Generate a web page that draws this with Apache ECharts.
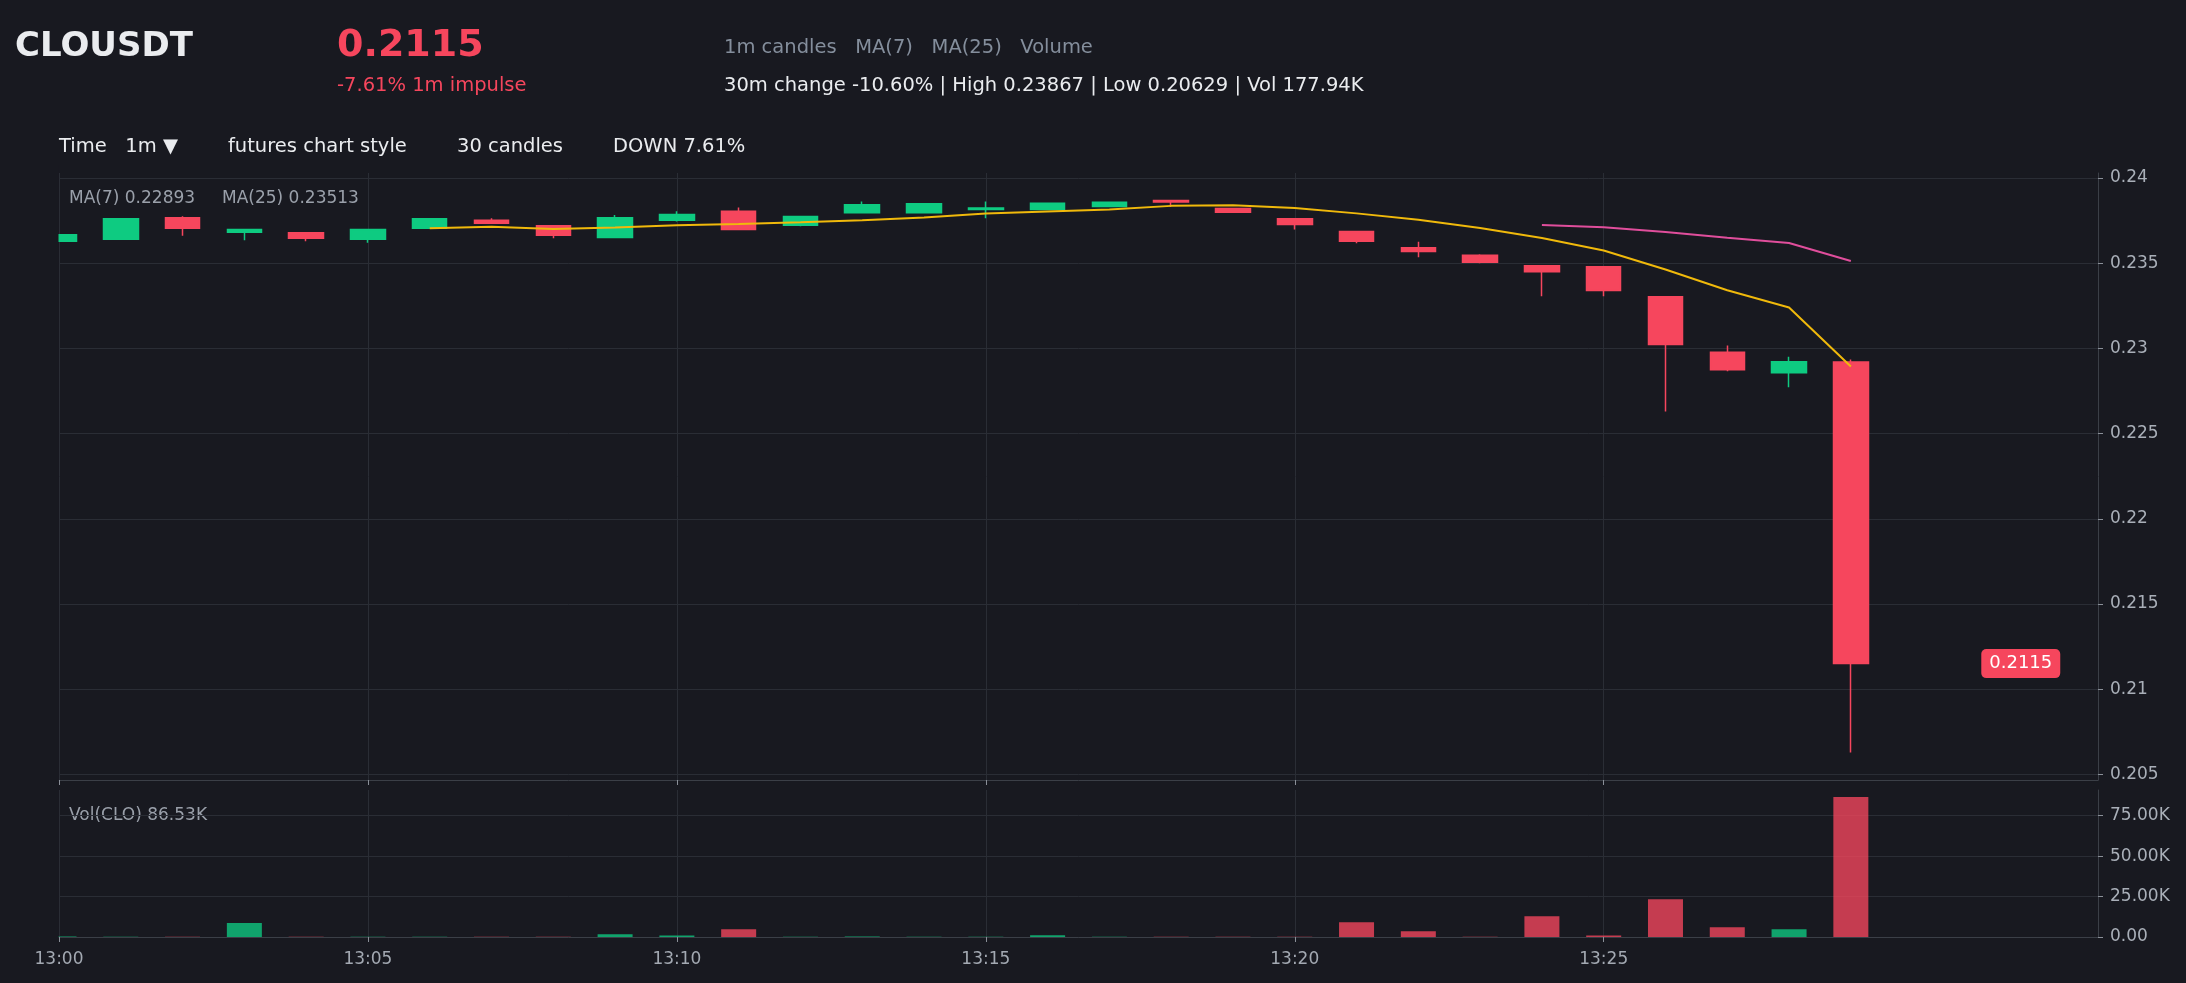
<!DOCTYPE html>
<html>
<head>
<meta charset="utf-8">
<title>CLOUSDT 1m</title>
<script src="https://cdn.jsdelivr.net/npm/echarts@6/dist/echarts.min.js"></script>
<style>
  html, body { margin: 0; padding: 0; background: #181920; }
  #chart { width: 2186px; height: 983px; }
</style>
</head>
<body>
<div id="chart"></div>
<script>
// 1m candles
var times = ['13:00', '13:01', '13:02', '13:03', '13:04', '13:05', '13:06', '13:07', '13:08', '13:09',
  '13:10', '13:11', '13:12', '13:13', '13:14', '13:15', '13:16', '13:17', '13:18', '13:19',
  '13:20', '13:21', '13:22', '13:23', '13:24', '13:25', '13:26', '13:27', '13:28', '13:29']
var opens = [0.23628, 0.23640, 0.23767, 0.23681, 0.23679, 0.23640, 0.23704, 0.23751, 0.23720, 0.23650,
  0.23751, 0.23804, 0.23722, 0.23796, 0.23796, 0.23814, 0.23814, 0.23832, 0.23867, 0.23820,
  0.23761, 0.23685, 0.23591, 0.23546, 0.23485, 0.23479, 0.23303, 0.22977, 0.22857, 0.22920]
var closes = [0.23667, 0.23761, 0.23704, 0.23697, 0.23646, 0.23697, 0.23761, 0.23734, 0.23663, 0.23767,
  0.23785, 0.23698, 0.23773, 0.23843, 0.23849, 0.23824, 0.23851, 0.23857, 0.23858, 0.23798,
  0.23726, 0.23628, 0.23569, 0.23505, 0.23450, 0.23339, 0.23022, 0.22875, 0.22922, 0.2115]
var lows = [0.23626, 0.23638, 0.23661, 0.23634, 0.23628, 0.23619, 0.23702, 0.23732, 0.23646, 0.23648,
  0.23745, 0.23696, 0.23716, 0.23794, 0.23794, 0.23763, 0.23812, 0.23830, 0.23830, 0.23796,
  0.23698, 0.23616, 0.23534, 0.23499, 0.23305, 0.23305, 0.22630, 0.22865, 0.22771, 0.20629]
var highs = [0.23669, 0.23763, 0.23775, 0.23699, 0.23681, 0.23699, 0.23763, 0.23763, 0.23722, 0.23783,
  0.23804, 0.23826, 0.23775, 0.23862, 0.23851, 0.23862, 0.23853, 0.23859, 0.23867, 0.23822,
  0.23763, 0.23687, 0.23626, 0.23552, 0.23487, 0.23481, 0.23305, 0.23016, 0.22951, 0.22935]
var volumes = [300, 200, 100, 8600, 100, 100, 100, 100, 200, 1700,
  1000, 4800, 200, 300, 200, 100, 1100, 200, 100, 100,
  100, 9100, 3500, 200, 12800, 1000, 23300, 6000, 4800, 86530]
var ma7 = [null, null, null, null, null, null, 0.23705, 0.23714, 0.23700, 0.23709,
  0.23722, 0.23729, 0.23740, 0.23752, 0.23768, 0.23791, 0.23803, 0.23814, 0.23836, 0.23840,
  0.23823, 0.23792, 0.23755, 0.23706, 0.23648, 0.23574, 0.23463, 0.23341, 0.23240, 0.22893]
var ma25 = [null, null, null, null, null, null, null, null, null, null,
  null, null, null, null, null, null, null, null, null, null,
  null, null, null, null, 0.23724, 0.23711, 0.23682, 0.23649, 0.23618, 0.23513]

var priceTicks = [0.205, 0.21, 0.215, 0.22, 0.225, 0.23, 0.235, 0.24]
var volTicks = [0, 25000, 50000, 75000]
var timeTicks = ['13:00', '13:05', '13:10', '13:15', '13:20', '13:25']
var axisEnd = '13:33'

var UP = '#0ecb81'
var DOWN = '#f6465d'
var BG = '#181920'
var FONT = 'DejaVu Sans'

function toMin(t) {
  var p = t.split(':')
  return +p[0] * 60 + +p[1]
}
function fmtMin(v) {
  var m = v % 60
  return Math.floor(v / 60) + ':' + (m < 10 ? '0' + m : m)
}

var lo = Math.min.apply(null, lows)
var hi = Math.max.apply(null, highs)
var pad = (hi - lo) * 0.05
var volMax = Math.max.apply(null, volumes) * 1.05
var xMin = toMin(times[0])
var xMax = toMin(axisEnd)
var last = times.length - 1
var timeTickMins = timeTicks.map(toMin)

var candleData = times.map(function(t, i) {
  return [toMin(t), opens[i], closes[i], lows[i], highs[i]]
})
var volData = times.map(function(t, i) {
  return {
    value: [toMin(t), volumes[i]],
    itemStyle: { color: closes[i] >= opens[i] ? UP : DOWN, opacity: 0.78 }
  }
})
function maData(arr) {
  var out = []
  arr.forEach(function(v, i) {
    if (v != null) out.push([toMin(times[i]), v])
  })
  return out
}

function txt(x, y, s, color, size, weight) {
  return {
    type: 'text', x: x, y: y, silent: true,
    style: {
      text: s, fill: color, fontFamily: FONT, fontSize: size,
      fontWeight: weight || 'normal', verticalAlign: 'middle'
    }
  }
}

var chart = echarts.init(document.getElementById('chart'))

var gridLine = { show: true, lineStyle: { color: '#2a2d35' } }
var axisLine = { show: true, lineStyle: { color: '#3b3f47' } }

chart.setOption({
  backgroundColor: BG,
  animation: false,
  textStyle: { fontFamily: FONT },
  graphic: [
    txt(15, 47.5, 'CLOUSDT', '#eaecef', 34, 'bold'),
    txt(337, 46.5, '0.2115', DOWN, 38, 'bold'),
    txt(337, 85.5, '-7.61% 1m impulse', DOWN, 19.5),
    txt(724, 48, '1m candles   MA(7)   MA(25)   Volume', '#848e9c', 19.5),
    txt(724, 85.5, '30m change -10.60% | High 0.23867 | Low 0.20629 | Vol 177.94K', '#eaecef', 19.5),
    txt(59, 146.5, 'Time   1m \u25BC', '#eaecef', 19.5),
    txt(228, 146.5, 'futures chart style', '#eaecef', 19.5),
    txt(457, 146.5, '30 candles', '#eaecef', 19.5),
    txt(613, 146.5, 'DOWN 7.61%', '#eaecef', 19.5),
    txt(69, 199, 'MA(7) 0.22893', '#9aa0aa', 17),
    txt(222, 199, 'MA(25) 0.23513', '#9aa0aa', 17),
    txt(69, 816, 'Vol(CLO) 86.53K', '#9aa0aa', 17),
    // keeps the half-visible first candle / bar inside the panes
    { type: 'rect', z: 50, silent: true, shape: { x: 0, y: 165, width: 58.5, height: 772 }, style: { fill: BG } }
  ],
  grid: [
    { left: 59, right: 88, top: 173, height: 607 },
    { left: 59, right: 88, top: 790, height: 147 }
  ],
  xAxis: [
    {
      type: 'value', gridIndex: 0, min: xMin, max: xMax, interval: 5,
      axisLine: axisLine,
      axisTick: { show: true, length: 5, customValues: timeTickMins, lineStyle: { color: '#8a8f98' } },
      axisLabel: { show: false },
      splitLine: gridLine
    },
    {
      type: 'value', gridIndex: 1, min: xMin, max: xMax, interval: 5,
      axisLine: axisLine,
      axisTick: { show: true, length: 5, customValues: timeTickMins, lineStyle: { color: '#8a8f98' } },
      axisLabel: { color: '#a3a9b2', fontSize: 17, margin: 14, customValues: timeTickMins, formatter: fmtMin },
      splitLine: gridLine
    }
  ],
  yAxis: [
    {
      type: 'value', gridIndex: 0, position: 'right', scale: true,
      min: lo - pad, max: hi + pad, splitNumber: 7, minInterval: 0.005, maxInterval: 0.005,
      axisLine: axisLine,
      axisTick: { show: true, length: 5, customValues: priceTicks, lineStyle: { color: '#8a8f98' } },
      axisLabel: {
        color: '#a9afb8', fontSize: 17, margin: 12, customValues: priceTicks,
        formatter: function(v) { return String(+v.toFixed(3)) }
      },
      splitLine: gridLine
    },
    {
      type: 'value', gridIndex: 1, position: 'right', min: 0, max: volMax, interval: 25000,
      axisLine: axisLine,
      axisTick: { show: true, length: 5, customValues: volTicks, lineStyle: { color: '#8a8f98' } },
      axisLabel: {
        color: '#a9afb8', fontSize: 17, margin: 12, customValues: volTicks,
        formatter: function(v) { return v === 0 ? '0.00' : (v / 1000).toFixed(2) + 'K' }
      },
      splitLine: gridLine
    }
  ],
  series: [
    {
      name: 'CLOUSDT', type: 'candlestick', xAxisIndex: 0, yAxisIndex: 0,
      data: candleData, barWidth: 35,
      itemStyle: { color: UP, color0: DOWN, borderColor: UP, borderColor0: DOWN, borderWidth: 1.5 },
      markPoint: {
        symbol: 'rect', symbolSize: 1,
        itemStyle: { color: 'rgba(0,0,0,0)' },
        label: {
          show: true, position: 'inside', color: '#ffffff', fontSize: 18, fontFamily: FONT,
          backgroundColor: DOWN, borderRadius: 5, padding: [6, 8, 5, 8],
          formatter: function(p) { return String(p.value) }
        },
        data: [{ coord: [toMin(times[last]) + 2.75, closes[last]], value: closes[last] }]
      }
    },
    {
      name: 'MA(7)', type: 'line', xAxisIndex: 0, yAxisIndex: 0,
      data: maData(ma7), symbol: 'none', z: 3,
      lineStyle: { color: '#f0b90b', width: 2 }
    },
    {
      name: 'MA(25)', type: 'line', xAxisIndex: 0, yAxisIndex: 0,
      data: maData(ma25), symbol: 'none', z: 3,
      lineStyle: { color: '#e04e9c', width: 2 }
    },
    {
      name: 'Volume', type: 'bar', xAxisIndex: 1, yAxisIndex: 1,
      data: volData, barWidth: 35
    }
  ]
})
</script>
</body>
</html>
